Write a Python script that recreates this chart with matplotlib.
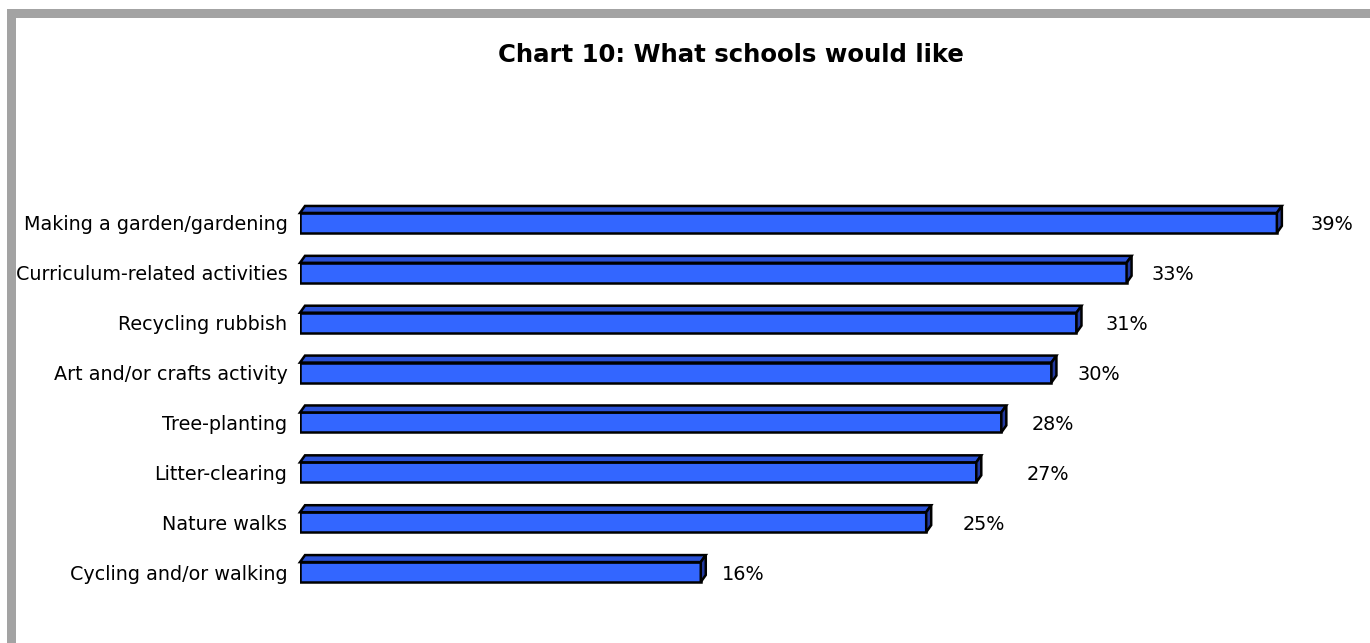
import matplotlib
matplotlib.use("Agg")
from matplotlib import pyplot as plt, patches as mpatches, transforms as mtransforms

categories = ["Making a garden/gardening", "Curriculum-related activities",
              "Recycling rubbish", "Art and/or crafts activity", "Tree-planting",
              "Litter-clearing", "Nature walks", "Cycling and/or walking"]
values = [39, 33, 31, 30, 28, 27, 25, 16]
value_labels = ["39%", "33%", "31%", "30%", "28%", "27%", "25%", "16%"]

# gap between bar end and its label, in pixels (as in the original)
label_gap = [34, 25, 29, 26, 30, 50, 36, 21]

W, H = 1370, 643
fig = plt.figure(figsize=(W / 100, H / 100), dpi=100)
fig.patch.set_facecolor("white")

# plot area in pixels
left, right = 300, 1352
top, bottom = 198, 597
ax = fig.add_axes([left / W, 1 - bottom / H, (right - left) / W, (bottom - top) / H])
ax.set_xlim(0, 42)
ax.set_ylim(7.5, -0.5)

front = "#3366ff"
top_c = "#2b52d6"
side_c = "#22399e"
bh = 0.4
ypos = list(range(len(values)))

ax.barh(ypos, values, height=bh, color=front, edgecolor="black", linewidth=1.8, zorder=3)

# fake 3d: top and right faces, 5px right / 7px up
dx, dy = 5, 7
for y, v in zip(ypos, values):
    x0, yt = ax.transData.transform((0, y - bh / 2))
    x1, yb = ax.transData.transform((v, y + bh / 2))
    topf = [(x0, yt), (x1, yt), (x1 + dx, yt + dy), (x0 + dx, yt + dy)]
    sidef = [(x1, yb), (x1, yt), (x1 + dx, yt + dy), (x1 + dx, yb + dy)]
    for pts, c in ((topf, top_c), (sidef, side_c)):
        fig.add_artist(mpatches.Polygon(pts, closed=True, facecolor=c, edgecolor="black",
                                        linewidth=1.8, joinstyle="miter",
                                        transform=mtransforms.IdentityTransform()))

for y, v, lab, g in zip(ypos, values, value_labels, label_gap):
    ax.annotate(lab, xy=(v, y), xytext=(g, 0), textcoords="offset pixels",
                ha="left", va="center_baseline", fontsize=13.9, family="DejaVu Sans", color="black")

ax.set_yticks(ypos)
ax.set_yticklabels(categories, fontsize=13.8, family="DejaVu Sans", color="black",
                   va="center_baseline")
ax.tick_params(axis="y", length=0, pad=9)
ax.set_xticks([])
for s in ax.spines.values():
    s.set_visible(False)
ax.patch.set_alpha(0)

fig.text(731 / W, 1 - 55 / H, "Chart 10: What schools would like", ha="center", va="center",
         fontsize=17.6, fontweight="bold", family="DejaVu Sans", color="black")

# grey frame on left and top
fig.add_artist(mpatches.Rectangle((7 / W, 0), 9 / W, (H - 9) / H, transform=fig.transFigure,
                                  facecolor="#a3a3a3", edgecolor="none"))
fig.add_artist(mpatches.Rectangle((7 / W, 1 - 18 / H), (W - 7) / W, 9 / H, transform=fig.transFigure,
                                  facecolor="#a3a3a3", edgecolor="none"))

fig.savefig("out.png", dpi=100)
